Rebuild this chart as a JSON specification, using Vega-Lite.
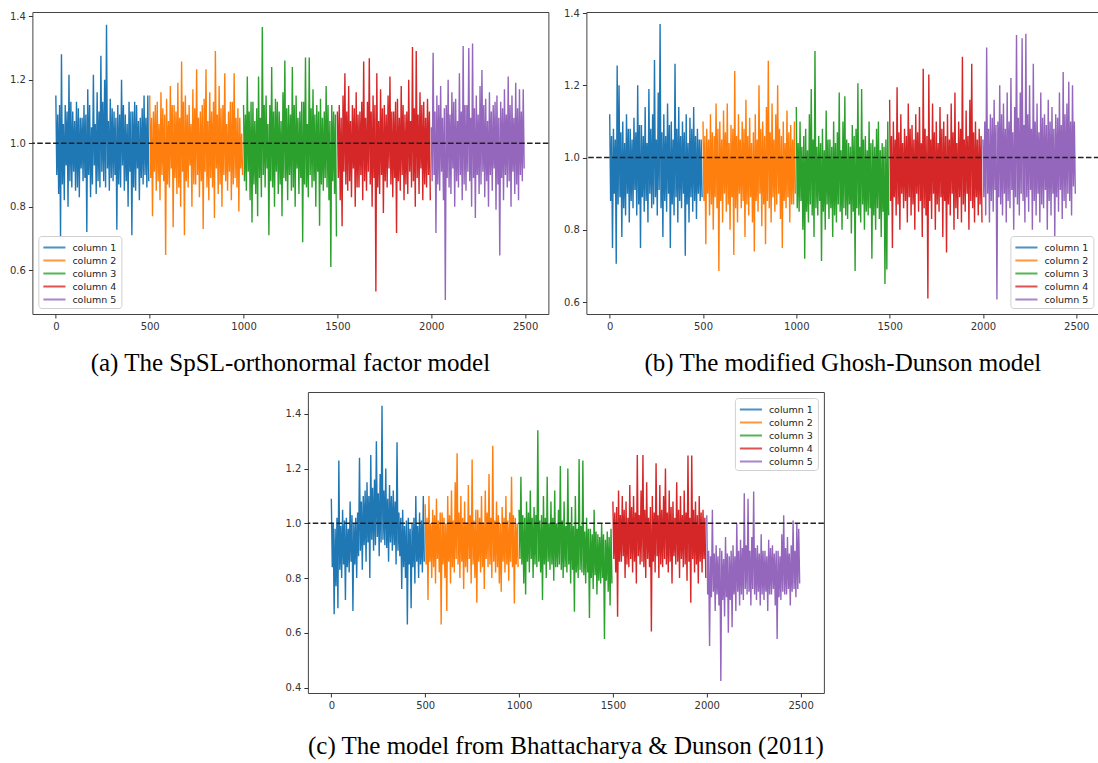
{
"$schema":"https://vega.github.io/schema/vega-lite/v6.json",
"background":"white",
"padding":{"left":8,"top":7,"right":0,"bottom":0},
"config":{
 "view":{"stroke":"#444","strokeWidth":1},
 "axis":{"grid":false,"domain":false,"tickColor":"#333","tickSize":4,"labelFont":"DejaVu Sans","labelFontSize":10,"labelColor":"#333","labelPadding":3,"title":null},
 "legend":{"symbolType":"M-1,0H2.4","symbolStrokeWidth":2,"symbolSize":169,"symbolOpacity":0.8,"labelFont":"DejaVu Sans","labelFontSize":9.5,"labelColor":"#222","labelOffset":15,"rowPadding":1,"padding":4,"strokeColor":"#d0d0d0","fillColor":"#ffffff","cornerRadius":3,"offset":6,"title":null},
 "title":{"font":"Liberation Serif","fontSize":25,"fontWeight":"normal","color":"#000","orient":"bottom","anchor":"middle","offset":20}
},
"datasets":{
"a":[
{"c":1,"x":0,"y":1.15},{"c":1,"x":5,"y":0.90},{"c":1,"x":10,"y":1.09},{"c":1,"x":15,"y":0.84},{"c":1,"x":20,"y":1.12},{"c":1,"x":25,"y":0.70},{"c":1,"x":30,"y":1.28},{"c":1,"x":35,"y":0.87},{"c":1,"x":40,"y":1.06},{"c":1,"x":45,"y":0.82},
{"c":1,"x":50,"y":1.12},{"c":1,"x":55,"y":0.93},{"c":1,"x":60,"y":1.10},{"c":1,"x":65,"y":0.80},{"c":1,"x":70,"y":1.215},{"c":1,"x":75,"y":0.88},{"c":1,"x":80,"y":1.13},{"c":1,"x":85,"y":0.86},{"c":1,"x":90,"y":1.10},{"c":1,"x":95,"y":0.91},
{"c":1,"x":100,"y":1.07},{"c":1,"x":105,"y":0.85},{"c":1,"x":110,"y":1.13},{"c":1,"x":115,"y":0.86},{"c":1,"x":120,"y":1.11},{"c":1,"x":125,"y":0.83},{"c":1,"x":130,"y":1.08},{"c":1,"x":135,"y":0.92},{"c":1,"x":140,"y":1.08},{"c":1,"x":145,"y":0.88},
{"c":1,"x":150,"y":1.12},{"c":1,"x":155,"y":0.89},{"c":1,"x":160,"y":1.09},{"c":1,"x":165,"y":0.72},{"c":1,"x":170,"y":1.17},{"c":1,"x":175,"y":0.90},{"c":1,"x":180,"y":1.12},{"c":1,"x":185,"y":0.83},{"c":1,"x":190,"y":1.05},{"c":1,"x":195,"y":0.87},
{"c":1,"x":200,"y":1.215},{"c":1,"x":205,"y":0.93},{"c":1,"x":210,"y":1.06},{"c":1,"x":215,"y":0.84},{"c":1,"x":220,"y":1.16},{"c":1,"x":225,"y":0.88},{"c":1,"x":230,"y":1.10},{"c":1,"x":235,"y":0.86},{"c":1,"x":240,"y":1.275},{"c":1,"x":245,"y":0.91},
{"c":1,"x":250,"y":1.13},{"c":1,"x":255,"y":0.88},{"c":1,"x":260,"y":1.20},{"c":1,"x":265,"y":0.86},{"c":1,"x":270,"y":1.373},{"c":1,"x":275,"y":0.92},{"c":1,"x":280,"y":1.07},{"c":1,"x":285,"y":0.85},{"c":1,"x":290,"y":1.14},{"c":1,"x":295,"y":0.89},
{"c":1,"x":300,"y":1.11},{"c":1,"x":305,"y":0.88},{"c":1,"x":310,"y":1.10},{"c":1,"x":315,"y":0.90},{"c":1,"x":320,"y":1.08},{"c":1,"x":325,"y":0.727},{"c":1,"x":330,"y":1.12},{"c":1,"x":335,"y":0.87},{"c":1,"x":340,"y":1.09},{"c":1,"x":345,"y":0.86},
{"c":1,"x":350,"y":1.20},{"c":1,"x":355,"y":0.93},{"c":1,"x":360,"y":1.12},{"c":1,"x":365,"y":0.85},{"c":1,"x":370,"y":1.09},{"c":1,"x":375,"y":0.88},{"c":1,"x":380,"y":1.06},{"c":1,"x":385,"y":0.80},{"c":1,"x":390,"y":1.13},{"c":1,"x":395,"y":0.91},
{"c":1,"x":400,"y":1.10},{"c":1,"x":405,"y":0.71},{"c":1,"x":410,"y":1.10},{"c":1,"x":415,"y":0.86},{"c":1,"x":420,"y":1.13},{"c":1,"x":425,"y":0.85},{"c":1,"x":430,"y":1.12},{"c":1,"x":435,"y":0.92},{"c":1,"x":440,"y":1.07},{"c":1,"x":445,"y":0.82},
{"c":1,"x":450,"y":1.08},{"c":1,"x":455,"y":0.89},{"c":1,"x":460,"y":1.11},{"c":1,"x":465,"y":0.87},{"c":1,"x":470,"y":1.15},{"c":1,"x":475,"y":0.90},{"c":1,"x":480,"y":1.08},{"c":1,"x":485,"y":0.86},{"c":1,"x":490,"y":1.15},{"c":1,"x":495,"y":0.88},
{"c":2,"x":500,"y":1.15},{"c":2,"x":505,"y":0.89},{"c":2,"x":510,"y":1.08},{"c":2,"x":515,"y":0.77},{"c":2,"x":520,"y":1.10},{"c":2,"x":525,"y":0.91},{"c":2,"x":530,"y":1.12},{"c":2,"x":535,"y":0.85},{"c":2,"x":540,"y":1.13},{"c":2,"x":545,"y":0.88},
{"c":2,"x":550,"y":1.06},{"c":2,"x":555,"y":0.82},{"c":2,"x":560,"y":1.16},{"c":2,"x":565,"y":0.90},{"c":2,"x":570,"y":1.11},{"c":2,"x":575,"y":0.88},{"c":2,"x":580,"y":1.09},{"c":2,"x":585,"y":0.648},{"c":2,"x":590,"y":1.14},{"c":2,"x":595,"y":0.87},
{"c":2,"x":600,"y":1.07},{"c":2,"x":605,"y":0.86},{"c":2,"x":610,"y":1.18},{"c":2,"x":615,"y":0.92},{"c":2,"x":620,"y":1.12},{"c":2,"x":625,"y":0.735},{"c":2,"x":630,"y":1.12},{"c":2,"x":635,"y":0.89},{"c":2,"x":640,"y":1.10},{"c":2,"x":645,"y":0.84},
{"c":2,"x":650,"y":1.19},{"c":2,"x":655,"y":0.86},{"c":2,"x":660,"y":1.08},{"c":2,"x":665,"y":0.80},{"c":2,"x":670,"y":1.257},{"c":2,"x":675,"y":0.91},{"c":2,"x":680,"y":1.13},{"c":2,"x":685,"y":0.71},{"c":2,"x":690,"y":1.15},{"c":2,"x":695,"y":0.88},
{"c":2,"x":700,"y":1.09},{"c":2,"x":705,"y":0.86},{"c":2,"x":710,"y":1.12},{"c":2,"x":715,"y":0.93},{"c":2,"x":720,"y":1.06},{"c":2,"x":725,"y":0.80},{"c":2,"x":730,"y":1.17},{"c":2,"x":735,"y":0.87},{"c":2,"x":740,"y":1.11},{"c":2,"x":745,"y":0.87},
{"c":2,"x":750,"y":1.233},{"c":2,"x":755,"y":0.90},{"c":2,"x":760,"y":1.08},{"c":2,"x":765,"y":0.83},{"c":2,"x":770,"y":1.10},{"c":2,"x":775,"y":0.88},{"c":2,"x":780,"y":1.12},{"c":2,"x":785,"y":0.73},{"c":2,"x":790,"y":1.14},{"c":2,"x":795,"y":0.91},
{"c":2,"x":800,"y":1.233},{"c":2,"x":805,"y":0.86},{"c":2,"x":810,"y":1.07},{"c":2,"x":815,"y":0.82},{"c":2,"x":820,"y":1.16},{"c":2,"x":825,"y":0.89},{"c":2,"x":830,"y":1.10},{"c":2,"x":835,"y":0.86},{"c":2,"x":840,"y":1.13},{"c":2,"x":845,"y":0.764},
{"c":2,"x":850,"y":1.29},{"c":2,"x":855,"y":0.92},{"c":2,"x":860,"y":1.09},{"c":2,"x":865,"y":0.84},{"c":2,"x":870,"y":1.18},{"c":2,"x":875,"y":0.87},{"c":2,"x":880,"y":1.11},{"c":2,"x":885,"y":0.80},{"c":2,"x":890,"y":1.12},{"c":2,"x":895,"y":0.90},
{"c":2,"x":900,"y":1.22},{"c":2,"x":905,"y":0.88},{"c":2,"x":910,"y":1.06},{"c":2,"x":915,"y":0.85},{"c":2,"x":920,"y":1.10},{"c":2,"x":925,"y":0.91},{"c":2,"x":930,"y":1.13},{"c":2,"x":935,"y":0.82},{"c":2,"x":940,"y":1.13},{"c":2,"x":945,"y":0.87},
{"c":2,"x":950,"y":1.22},{"c":2,"x":955,"y":0.89},{"c":2,"x":960,"y":1.08},{"c":2,"x":965,"y":0.86},{"c":2,"x":970,"y":1.11},{"c":2,"x":975,"y":0.785},{"c":2,"x":980,"y":1.08},{"c":2,"x":985,"y":0.92},{"c":2,"x":990,"y":1.03},{"c":2,"x":995,"y":0.90},
{"c":3,"x":1000,"y":1.12},{"c":3,"x":1005,"y":0.88},{"c":3,"x":1010,"y":1.09},{"c":3,"x":1015,"y":0.85},{"c":3,"x":1020,"y":1.21},{"c":3,"x":1025,"y":0.91},{"c":3,"x":1030,"y":1.10},{"c":3,"x":1035,"y":0.82},{"c":3,"x":1040,"y":1.13},{"c":3,"x":1045,"y":0.75},
{"c":3,"x":1050,"y":1.13},{"c":3,"x":1055,"y":0.87},{"c":3,"x":1060,"y":1.07},{"c":3,"x":1065,"y":0.84},{"c":3,"x":1070,"y":1.11},{"c":3,"x":1075,"y":0.77},{"c":3,"x":1080,"y":1.21},{"c":3,"x":1085,"y":0.89},{"c":3,"x":1090,"y":1.08},{"c":3,"x":1095,"y":0.83},
{"c":3,"x":1100,"y":1.366},{"c":3,"x":1105,"y":0.90},{"c":3,"x":1110,"y":1.12},{"c":3,"x":1115,"y":0.86},{"c":3,"x":1120,"y":1.15},{"c":3,"x":1125,"y":0.92},{"c":3,"x":1130,"y":1.06},{"c":3,"x":1135,"y":0.71},{"c":3,"x":1140,"y":1.12},{"c":3,"x":1145,"y":0.88},
{"c":3,"x":1150,"y":1.24},{"c":3,"x":1155,"y":0.86},{"c":3,"x":1160,"y":1.10},{"c":3,"x":1165,"y":0.80},{"c":3,"x":1170,"y":1.14},{"c":3,"x":1175,"y":0.91},{"c":3,"x":1180,"y":1.13},{"c":3,"x":1185,"y":0.84},{"c":3,"x":1190,"y":1.10},{"c":3,"x":1195,"y":0.87},
{"c":3,"x":1200,"y":1.07},{"c":3,"x":1205,"y":0.77},{"c":3,"x":1210,"y":1.16},{"c":3,"x":1215,"y":0.89},{"c":3,"x":1220,"y":1.26},{"c":3,"x":1225,"y":0.88},{"c":3,"x":1230,"y":1.11},{"c":3,"x":1235,"y":0.82},{"c":3,"x":1240,"y":1.12},{"c":3,"x":1245,"y":0.90},
{"c":3,"x":1250,"y":1.09},{"c":3,"x":1255,"y":0.85},{"c":3,"x":1260,"y":1.24},{"c":3,"x":1265,"y":0.86},{"c":3,"x":1270,"y":1.12},{"c":3,"x":1275,"y":0.80},{"c":3,"x":1280,"y":1.15},{"c":3,"x":1285,"y":0.92},{"c":3,"x":1290,"y":1.08},{"c":3,"x":1295,"y":0.84},
{"c":3,"x":1300,"y":1.10},{"c":3,"x":1305,"y":0.89},{"c":3,"x":1310,"y":1.13},{"c":3,"x":1315,"y":0.688},{"c":3,"x":1320,"y":1.13},{"c":3,"x":1325,"y":0.87},{"c":3,"x":1330,"y":1.27},{"c":3,"x":1335,"y":0.86},{"c":3,"x":1340,"y":1.06},{"c":3,"x":1345,"y":0.83},
{"c":3,"x":1350,"y":1.27},{"c":3,"x":1355,"y":0.90},{"c":3,"x":1360,"y":1.11},{"c":3,"x":1365,"y":0.86},{"c":3,"x":1370,"y":1.17},{"c":3,"x":1375,"y":0.88},{"c":3,"x":1380,"y":1.09},{"c":3,"x":1385,"y":0.80},{"c":3,"x":1390,"y":1.12},{"c":3,"x":1395,"y":0.91},
{"c":3,"x":1400,"y":1.10},{"c":3,"x":1405,"y":0.74},{"c":3,"x":1410,"y":1.14},{"c":3,"x":1415,"y":0.87},{"c":3,"x":1420,"y":1.08},{"c":3,"x":1425,"y":0.85},{"c":3,"x":1430,"y":1.10},{"c":3,"x":1435,"y":0.89},{"c":3,"x":1440,"y":1.18},{"c":3,"x":1445,"y":0.86},
{"c":3,"x":1450,"y":1.12},{"c":3,"x":1455,"y":0.82},{"c":3,"x":1460,"y":1.07},{"c":3,"x":1465,"y":0.61},{"c":3,"x":1470,"y":1.12},{"c":3,"x":1475,"y":0.88},{"c":3,"x":1480,"y":1.10},{"c":3,"x":1485,"y":0.84},{"c":3,"x":1490,"y":1.09},{"c":3,"x":1495,"y":0.706},
{"c":4,"x":1500,"y":1.10},{"c":4,"x":1505,"y":0.89},{"c":4,"x":1510,"y":1.12},{"c":4,"x":1515,"y":0.82},{"c":4,"x":1520,"y":1.08},{"c":4,"x":1525,"y":0.738},{"c":4,"x":1530,"y":1.15},{"c":4,"x":1535,"y":0.91},{"c":4,"x":1540,"y":1.22},{"c":4,"x":1545,"y":0.87},
{"c":4,"x":1550,"y":1.10},{"c":4,"x":1555,"y":0.85},{"c":4,"x":1560,"y":1.18},{"c":4,"x":1565,"y":0.88},{"c":4,"x":1570,"y":1.07},{"c":4,"x":1575,"y":0.83},{"c":4,"x":1580,"y":1.12},{"c":4,"x":1585,"y":0.92},{"c":4,"x":1590,"y":1.11},{"c":4,"x":1595,"y":0.80},
{"c":4,"x":1600,"y":1.16},{"c":4,"x":1605,"y":0.86},{"c":4,"x":1610,"y":1.09},{"c":4,"x":1615,"y":0.86},{"c":4,"x":1620,"y":1.10},{"c":4,"x":1625,"y":0.90},{"c":4,"x":1630,"y":1.13},{"c":4,"x":1635,"y":0.82},{"c":4,"x":1640,"y":1.257},{"c":4,"x":1645,"y":0.88},
{"c":4,"x":1650,"y":1.08},{"c":4,"x":1655,"y":0.85},{"c":4,"x":1660,"y":1.13},{"c":4,"x":1665,"y":0.91},{"c":4,"x":1670,"y":1.267},{"c":4,"x":1675,"y":0.87},{"c":4,"x":1680,"y":1.10},{"c":4,"x":1685,"y":0.80},{"c":4,"x":1690,"y":1.15},{"c":4,"x":1695,"y":0.89},
{"c":4,"x":1700,"y":1.12},{"c":4,"x":1705,"y":0.533},{"c":4,"x":1710,"y":1.22},{"c":4,"x":1715,"y":0.86},{"c":4,"x":1720,"y":1.07},{"c":4,"x":1725,"y":0.84},{"c":4,"x":1730,"y":1.17},{"c":4,"x":1735,"y":0.90},{"c":4,"x":1740,"y":1.11},{"c":4,"x":1745,"y":0.78},
{"c":4,"x":1750,"y":1.12},{"c":4,"x":1755,"y":0.88},{"c":4,"x":1760,"y":1.09},{"c":4,"x":1765,"y":0.86},{"c":4,"x":1770,"y":1.15},{"c":4,"x":1775,"y":0.92},{"c":4,"x":1780,"y":1.21},{"c":4,"x":1785,"y":0.87},{"c":4,"x":1790,"y":1.10},{"c":4,"x":1795,"y":0.83},
{"c":4,"x":1800,"y":1.10},{"c":4,"x":1805,"y":0.89},{"c":4,"x":1810,"y":1.13},{"c":4,"x":1815,"y":0.717},{"c":4,"x":1820,"y":1.14},{"c":4,"x":1825,"y":0.88},{"c":4,"x":1830,"y":1.08},{"c":4,"x":1835,"y":0.85},{"c":4,"x":1840,"y":1.18},{"c":4,"x":1845,"y":0.90},
{"c":4,"x":1850,"y":1.12},{"c":4,"x":1855,"y":0.82},{"c":4,"x":1860,"y":1.09},{"c":4,"x":1865,"y":0.87},{"c":4,"x":1870,"y":1.10},{"c":4,"x":1875,"y":0.84},{"c":4,"x":1880,"y":1.20},{"c":4,"x":1885,"y":0.91},{"c":4,"x":1890,"y":1.07},{"c":4,"x":1895,"y":0.86},
{"c":4,"x":1900,"y":1.303},{"c":4,"x":1905,"y":0.88},{"c":4,"x":1910,"y":1.11},{"c":4,"x":1915,"y":0.80},{"c":4,"x":1920,"y":1.29},{"c":4,"x":1925,"y":0.89},{"c":4,"x":1930,"y":1.09},{"c":4,"x":1935,"y":0.84},{"c":4,"x":1940,"y":1.16},{"c":4,"x":1945,"y":0.92},
{"c":4,"x":1950,"y":1.12},{"c":4,"x":1955,"y":0.82},{"c":4,"x":1960,"y":1.13},{"c":4,"x":1965,"y":0.87},{"c":4,"x":1970,"y":1.08},{"c":4,"x":1975,"y":0.86},{"c":4,"x":1980,"y":1.14},{"c":4,"x":1985,"y":0.90},{"c":4,"x":1990,"y":1.10},{"c":4,"x":1995,"y":0.82},
{"c":5,"x":2000,"y":1.05},{"c":5,"x":2005,"y":0.88},{"c":5,"x":2010,"y":1.285},{"c":5,"x":2015,"y":0.90},{"c":5,"x":2020,"y":1.10},{"c":5,"x":2025,"y":0.717},{"c":5,"x":2030,"y":1.15},{"c":5,"x":2035,"y":0.87},{"c":5,"x":2040,"y":1.12},{"c":5,"x":2045,"y":0.85},
{"c":5,"x":2050,"y":1.18},{"c":5,"x":2055,"y":0.91},{"c":5,"x":2060,"y":1.08},{"c":5,"x":2065,"y":0.82},{"c":5,"x":2070,"y":1.11},{"c":5,"x":2075,"y":0.506},{"c":5,"x":2080,"y":1.12},{"c":5,"x":2085,"y":0.89},{"c":5,"x":2090,"y":1.20},{"c":5,"x":2095,"y":0.86},
{"c":5,"x":2100,"y":1.09},{"c":5,"x":2105,"y":0.84},{"c":5,"x":2110,"y":1.16},{"c":5,"x":2115,"y":0.92},{"c":5,"x":2120,"y":1.13},{"c":5,"x":2125,"y":0.80},{"c":5,"x":2130,"y":1.14},{"c":5,"x":2135,"y":0.88},{"c":5,"x":2140,"y":1.07},{"c":5,"x":2145,"y":0.86},
{"c":5,"x":2150,"y":1.22},{"c":5,"x":2155,"y":0.90},{"c":5,"x":2160,"y":1.10},{"c":5,"x":2165,"y":0.82},{"c":5,"x":2170,"y":1.306},{"c":5,"x":2175,"y":0.87},{"c":5,"x":2180,"y":1.12},{"c":5,"x":2185,"y":0.85},{"c":5,"x":2190,"y":1.12},{"c":5,"x":2195,"y":0.91},
{"c":5,"x":2200,"y":1.30},{"c":5,"x":2205,"y":0.88},{"c":5,"x":2210,"y":1.08},{"c":5,"x":2215,"y":0.80},{"c":5,"x":2220,"y":1.314},{"c":5,"x":2225,"y":0.89},{"c":5,"x":2230,"y":1.11},{"c":5,"x":2235,"y":0.764},{"c":5,"x":2240,"y":1.15},{"c":5,"x":2245,"y":0.90},
{"c":5,"x":2250,"y":1.09},{"c":5,"x":2255,"y":0.84},{"c":5,"x":2260,"y":1.18},{"c":5,"x":2265,"y":0.87},{"c":5,"x":2270,"y":1.23},{"c":5,"x":2275,"y":0.91},{"c":5,"x":2280,"y":1.12},{"c":5,"x":2285,"y":0.83},{"c":5,"x":2290,"y":1.14},{"c":5,"x":2295,"y":0.88},
{"c":5,"x":2300,"y":1.07},{"c":5,"x":2305,"y":0.80},{"c":5,"x":2310,"y":1.16},{"c":5,"x":2315,"y":0.90},{"c":5,"x":2320,"y":1.10},{"c":5,"x":2325,"y":0.85},{"c":5,"x":2330,"y":1.12},{"c":5,"x":2335,"y":0.92},{"c":5,"x":2340,"y":1.13},{"c":5,"x":2345,"y":0.79},
{"c":5,"x":2350,"y":1.15},{"c":5,"x":2355,"y":0.87},{"c":5,"x":2360,"y":1.08},{"c":5,"x":2365,"y":0.646},{"c":5,"x":2370,"y":1.13},{"c":5,"x":2375,"y":0.89},{"c":5,"x":2380,"y":1.11},{"c":5,"x":2385,"y":0.82},{"c":5,"x":2390,"y":1.17},{"c":5,"x":2395,"y":0.90},
{"c":5,"x":2400,"y":1.09},{"c":5,"x":2405,"y":0.86},{"c":5,"x":2410,"y":1.21},{"c":5,"x":2415,"y":0.88},{"c":5,"x":2420,"y":1.12},{"c":5,"x":2425,"y":0.80},{"c":5,"x":2430,"y":1.15},{"c":5,"x":2435,"y":0.91},{"c":5,"x":2440,"y":1.08},{"c":5,"x":2445,"y":0.84},
{"c":5,"x":2450,"y":1.19},{"c":5,"x":2455,"y":0.87},{"c":5,"x":2460,"y":1.11},{"c":5,"x":2465,"y":0.82},{"c":5,"x":2470,"y":1.17},{"c":5,"x":2475,"y":0.90},{"c":5,"x":2480,"y":1.10},{"c":5,"x":2485,"y":0.88},{"c":5,"x":2490,"y":1.17},{"c":5,"x":2495,"y":0.92}
],
"b":[
{"c":1,"x":0,"y":1.12},{"c":1,"x":5,"y":0.88},{"c":1,"x":10,"y":1.06},{"c":1,"x":15,"y":0.75},{"c":1,"x":20,"y":1.08},{"c":1,"x":25,"y":0.90},{"c":1,"x":30,"y":1.05},{"c":1,"x":35,"y":0.706},{"c":1,"x":40,"y":1.255},{"c":1,"x":45,"y":0.87},
{"c":1,"x":50,"y":1.20},{"c":1,"x":55,"y":0.89},{"c":1,"x":60,"y":1.07},{"c":1,"x":65,"y":0.78},{"c":1,"x":70,"y":1.10},{"c":1,"x":75,"y":0.86},{"c":1,"x":80,"y":1.04},{"c":1,"x":85,"y":0.84},{"c":1,"x":90,"y":1.12},{"c":1,"x":95,"y":0.90},
{"c":1,"x":100,"y":1.08},{"c":1,"x":105,"y":0.82},{"c":1,"x":110,"y":1.08},{"c":1,"x":115,"y":0.88},{"c":1,"x":120,"y":1.05},{"c":1,"x":125,"y":0.86},{"c":1,"x":130,"y":1.11},{"c":1,"x":135,"y":0.91},{"c":1,"x":140,"y":1.07},{"c":1,"x":145,"y":0.84},
{"c":1,"x":150,"y":1.20},{"c":1,"x":155,"y":0.87},{"c":1,"x":160,"y":1.09},{"c":1,"x":165,"y":0.75},{"c":1,"x":170,"y":1.09},{"c":1,"x":175,"y":0.89},{"c":1,"x":180,"y":1.06},{"c":1,"x":185,"y":0.85},{"c":1,"x":190,"y":1.14},{"c":1,"x":195,"y":0.88},
{"c":1,"x":200,"y":1.04},{"c":1,"x":205,"y":0.82},{"c":1,"x":210,"y":1.19},{"c":1,"x":215,"y":0.90},{"c":1,"x":220,"y":1.08},{"c":1,"x":225,"y":0.86},{"c":1,"x":230,"y":1.12},{"c":1,"x":235,"y":0.87},{"c":1,"x":240,"y":1.27},{"c":1,"x":245,"y":0.89},
{"c":1,"x":250,"y":1.05},{"c":1,"x":255,"y":0.84},{"c":1,"x":260,"y":1.18},{"c":1,"x":265,"y":0.91},{"c":1,"x":270,"y":1.37},{"c":1,"x":275,"y":0.86},{"c":1,"x":280,"y":1.07},{"c":1,"x":285,"y":0.78},{"c":1,"x":290,"y":1.12},{"c":1,"x":295,"y":0.88},
{"c":1,"x":300,"y":1.06},{"c":1,"x":305,"y":0.85},{"c":1,"x":310,"y":1.15},{"c":1,"x":315,"y":0.90},{"c":1,"x":320,"y":1.09},{"c":1,"x":325,"y":0.75},{"c":1,"x":330,"y":1.10},{"c":1,"x":335,"y":0.87},{"c":1,"x":340,"y":1.05},{"c":1,"x":345,"y":0.84},
{"c":1,"x":350,"y":1.26},{"c":1,"x":355,"y":0.89},{"c":1,"x":360,"y":1.08},{"c":1,"x":365,"y":0.82},{"c":1,"x":370,"y":1.14},{"c":1,"x":375,"y":0.88},{"c":1,"x":380,"y":1.06},{"c":1,"x":385,"y":0.86},{"c":1,"x":390,"y":1.10},{"c":1,"x":395,"y":0.90},
{"c":1,"x":400,"y":1.07},{"c":1,"x":405,"y":0.728},{"c":1,"x":410,"y":1.12},{"c":1,"x":415,"y":0.87},{"c":1,"x":420,"y":1.04},{"c":1,"x":425,"y":0.82},{"c":1,"x":430,"y":1.11},{"c":1,"x":435,"y":0.89},{"c":1,"x":440,"y":1.08},{"c":1,"x":445,"y":0.85},
{"c":1,"x":450,"y":1.14},{"c":1,"x":455,"y":0.88},{"c":1,"x":460,"y":1.06},{"c":1,"x":465,"y":0.83},{"c":1,"x":470,"y":1.08},{"c":1,"x":475,"y":0.90},{"c":1,"x":480,"y":1.05},{"c":1,"x":485,"y":0.88},{"c":1,"x":490,"y":1.05},{"c":1,"x":495,"y":0.89},
{"c":2,"x":500,"y":1.10},{"c":2,"x":505,"y":0.88},{"c":2,"x":510,"y":1.06},{"c":2,"x":515,"y":0.76},{"c":2,"x":520,"y":1.08},{"c":2,"x":525,"y":0.90},{"c":2,"x":530,"y":1.05},{"c":2,"x":535,"y":0.84},{"c":2,"x":540,"y":1.12},{"c":2,"x":545,"y":0.87},
{"c":2,"x":550,"y":1.07},{"c":2,"x":555,"y":0.80},{"c":2,"x":560,"y":1.06},{"c":2,"x":565,"y":0.89},{"c":2,"x":570,"y":1.15},{"c":2,"x":575,"y":0.86},{"c":2,"x":580,"y":1.08},{"c":2,"x":585,"y":0.686},{"c":2,"x":590,"y":1.10},{"c":2,"x":595,"y":0.88},
{"c":2,"x":600,"y":1.05},{"c":2,"x":605,"y":0.82},{"c":2,"x":610,"y":1.13},{"c":2,"x":615,"y":0.90},{"c":2,"x":620,"y":1.07},{"c":2,"x":625,"y":0.85},{"c":2,"x":630,"y":1.15},{"c":2,"x":635,"y":0.87},{"c":2,"x":640,"y":1.04},{"c":2,"x":645,"y":0.80},
{"c":2,"x":650,"y":1.09},{"c":2,"x":655,"y":0.89},{"c":2,"x":660,"y":1.08},{"c":2,"x":665,"y":0.73},{"c":2,"x":670,"y":1.24},{"c":2,"x":675,"y":0.86},{"c":2,"x":680,"y":1.06},{"c":2,"x":685,"y":0.82},{"c":2,"x":690,"y":1.12},{"c":2,"x":695,"y":0.90},
{"c":2,"x":700,"y":1.05},{"c":2,"x":705,"y":0.86},{"c":2,"x":710,"y":1.10},{"c":2,"x":715,"y":0.88},{"c":2,"x":720,"y":1.08},{"c":2,"x":725,"y":0.78},{"c":2,"x":730,"y":1.16},{"c":2,"x":735,"y":0.87},{"c":2,"x":740,"y":1.06},{"c":2,"x":745,"y":0.84},
{"c":2,"x":750,"y":1.11},{"c":2,"x":755,"y":0.89},{"c":2,"x":760,"y":1.04},{"c":2,"x":765,"y":0.82},{"c":2,"x":770,"y":1.07},{"c":2,"x":775,"y":0.74},{"c":2,"x":780,"y":1.12},{"c":2,"x":785,"y":0.88},{"c":2,"x":790,"y":1.05},{"c":2,"x":795,"y":0.85},
{"c":2,"x":800,"y":1.20},{"c":2,"x":805,"y":0.90},{"c":2,"x":810,"y":1.08},{"c":2,"x":815,"y":0.81},{"c":2,"x":820,"y":1.10},{"c":2,"x":825,"y":0.87},{"c":2,"x":830,"y":1.06},{"c":2,"x":835,"y":0.76},{"c":2,"x":840,"y":1.14},{"c":2,"x":845,"y":0.88},
{"c":2,"x":850,"y":1.268},{"c":2,"x":855,"y":0.86},{"c":2,"x":860,"y":1.07},{"c":2,"x":865,"y":0.82},{"c":2,"x":870,"y":1.15},{"c":2,"x":875,"y":0.89},{"c":2,"x":880,"y":1.05},{"c":2,"x":885,"y":0.85},{"c":2,"x":890,"y":1.12},{"c":2,"x":895,"y":0.87},
{"c":2,"x":900,"y":1.20},{"c":2,"x":905,"y":0.90},{"c":2,"x":910,"y":1.08},{"c":2,"x":915,"y":0.83},{"c":2,"x":920,"y":1.06},{"c":2,"x":925,"y":0.75},{"c":2,"x":930,"y":1.10},{"c":2,"x":935,"y":0.88},{"c":2,"x":940,"y":1.04},{"c":2,"x":945,"y":0.86},
{"c":2,"x":950,"y":1.13},{"c":2,"x":955,"y":0.89},{"c":2,"x":960,"y":1.07},{"c":2,"x":965,"y":0.82},{"c":2,"x":970,"y":1.09},{"c":2,"x":975,"y":0.87},{"c":2,"x":980,"y":1.05},{"c":2,"x":985,"y":0.87},{"c":2,"x":990,"y":1.10},{"c":2,"x":995,"y":0.90},
{"c":3,"x":1000,"y":1.14},{"c":3,"x":1005,"y":0.86},{"c":3,"x":1010,"y":1.04},{"c":3,"x":1015,"y":0.85},{"c":3,"x":1020,"y":1.10},{"c":3,"x":1025,"y":0.88},{"c":3,"x":1030,"y":1.03},{"c":3,"x":1035,"y":0.80},{"c":3,"x":1040,"y":1.06},{"c":3,"x":1045,"y":0.72},
{"c":3,"x":1050,"y":1.08},{"c":3,"x":1055,"y":0.85},{"c":3,"x":1060,"y":1.02},{"c":3,"x":1065,"y":0.82},{"c":3,"x":1070,"y":1.12},{"c":3,"x":1075,"y":0.87},{"c":3,"x":1080,"y":1.19},{"c":3,"x":1085,"y":0.84},{"c":3,"x":1090,"y":1.05},{"c":3,"x":1095,"y":0.78},
{"c":3,"x":1100,"y":1.295},{"c":3,"x":1105,"y":0.86},{"c":3,"x":1110,"y":1.03},{"c":3,"x":1115,"y":0.84},{"c":3,"x":1120,"y":1.06},{"c":3,"x":1125,"y":0.88},{"c":3,"x":1130,"y":1.04},{"c":3,"x":1135,"y":0.714},{"c":3,"x":1140,"y":1.08},{"c":3,"x":1145,"y":0.85},
{"c":3,"x":1150,"y":1.02},{"c":3,"x":1155,"y":0.80},{"c":3,"x":1160,"y":1.13},{"c":3,"x":1165,"y":0.87},{"c":3,"x":1170,"y":1.05},{"c":3,"x":1175,"y":0.83},{"c":3,"x":1180,"y":1.05},{"c":3,"x":1185,"y":0.86},{"c":3,"x":1190,"y":1.03},{"c":3,"x":1195,"y":0.78},
{"c":3,"x":1200,"y":1.10},{"c":3,"x":1205,"y":0.84},{"c":3,"x":1210,"y":1.04},{"c":3,"x":1215,"y":0.82},{"c":3,"x":1220,"y":1.07},{"c":3,"x":1225,"y":0.87},{"c":3,"x":1230,"y":1.18},{"c":3,"x":1235,"y":0.85},{"c":3,"x":1240,"y":1.02},{"c":3,"x":1245,"y":0.80},
{"c":3,"x":1250,"y":1.10},{"c":3,"x":1255,"y":0.86},{"c":3,"x":1260,"y":1.17},{"c":3,"x":1265,"y":0.84},{"c":3,"x":1270,"y":1.05},{"c":3,"x":1275,"y":0.83},{"c":3,"x":1280,"y":1.04},{"c":3,"x":1285,"y":0.87},{"c":3,"x":1290,"y":1.03},{"c":3,"x":1295,"y":0.79},
{"c":3,"x":1300,"y":1.09},{"c":3,"x":1305,"y":0.85},{"c":3,"x":1310,"y":1.06},{"c":3,"x":1315,"y":0.686},{"c":3,"x":1320,"y":1.08},{"c":3,"x":1325,"y":0.86},{"c":3,"x":1330,"y":1.206},{"c":3,"x":1335,"y":0.84},{"c":3,"x":1340,"y":1.03},{"c":3,"x":1345,"y":0.82},
{"c":3,"x":1350,"y":1.19},{"c":3,"x":1355,"y":0.87},{"c":3,"x":1360,"y":1.05},{"c":3,"x":1365,"y":0.80},{"c":3,"x":1370,"y":1.06},{"c":3,"x":1375,"y":0.85},{"c":3,"x":1380,"y":1.02},{"c":3,"x":1385,"y":0.84},{"c":3,"x":1390,"y":1.10},{"c":3,"x":1395,"y":0.86},
{"c":3,"x":1400,"y":1.04},{"c":3,"x":1405,"y":0.72},{"c":3,"x":1410,"y":1.05},{"c":3,"x":1415,"y":0.84},{"c":3,"x":1420,"y":1.03},{"c":3,"x":1425,"y":0.80},{"c":3,"x":1430,"y":1.08},{"c":3,"x":1435,"y":0.86},{"c":3,"x":1440,"y":1.10},{"c":3,"x":1445,"y":0.83},
{"c":3,"x":1450,"y":1.02},{"c":3,"x":1455,"y":0.78},{"c":3,"x":1460,"y":1.04},{"c":3,"x":1465,"y":0.85},{"c":3,"x":1470,"y":1.03},{"c":3,"x":1475,"y":0.65},{"c":3,"x":1480,"y":1.05},{"c":3,"x":1485,"y":0.69},{"c":3,"x":1490,"y":1.10},{"c":3,"x":1495,"y":0.84},
{"c":4,"x":1500,"y":1.16},{"c":4,"x":1505,"y":0.88},{"c":4,"x":1510,"y":1.06},{"c":4,"x":1515,"y":0.75},{"c":4,"x":1520,"y":1.10},{"c":4,"x":1525,"y":0.89},{"c":4,"x":1530,"y":1.05},{"c":4,"x":1535,"y":0.84},{"c":4,"x":1540,"y":1.195},{"c":4,"x":1545,"y":0.87},
{"c":4,"x":1550,"y":1.07},{"c":4,"x":1555,"y":0.80},{"c":4,"x":1560,"y":1.12},{"c":4,"x":1565,"y":0.90},{"c":4,"x":1570,"y":1.04},{"c":4,"x":1575,"y":0.86},{"c":4,"x":1580,"y":1.08},{"c":4,"x":1585,"y":0.88},{"c":4,"x":1590,"y":1.06},{"c":4,"x":1595,"y":0.82},
{"c":4,"x":1600,"y":1.15},{"c":4,"x":1605,"y":0.89},{"c":4,"x":1610,"y":1.08},{"c":4,"x":1615,"y":0.84},{"c":4,"x":1620,"y":1.09},{"c":4,"x":1625,"y":0.87},{"c":4,"x":1630,"y":1.05},{"c":4,"x":1635,"y":0.80},{"c":4,"x":1640,"y":1.12},{"c":4,"x":1645,"y":0.90},
{"c":4,"x":1650,"y":1.07},{"c":4,"x":1655,"y":0.85},{"c":4,"x":1660,"y":1.14},{"c":4,"x":1665,"y":0.88},{"c":4,"x":1670,"y":1.04},{"c":4,"x":1675,"y":0.78},{"c":4,"x":1680,"y":1.246},{"c":4,"x":1685,"y":0.86},{"c":4,"x":1690,"y":1.08},{"c":4,"x":1695,"y":0.84},
{"c":4,"x":1700,"y":1.06},{"c":4,"x":1705,"y":0.61},{"c":4,"x":1710,"y":1.23},{"c":4,"x":1715,"y":0.88},{"c":4,"x":1720,"y":1.05},{"c":4,"x":1725,"y":0.83},{"c":4,"x":1730,"y":1.15},{"c":4,"x":1735,"y":0.90},{"c":4,"x":1740,"y":1.07},{"c":4,"x":1745,"y":0.80},
{"c":4,"x":1750,"y":1.10},{"c":4,"x":1755,"y":0.87},{"c":4,"x":1760,"y":1.04},{"c":4,"x":1765,"y":0.85},{"c":4,"x":1770,"y":1.14},{"c":4,"x":1775,"y":0.89},{"c":4,"x":1780,"y":1.08},{"c":4,"x":1785,"y":0.78},{"c":4,"x":1790,"y":1.10},{"c":4,"x":1795,"y":0.88},
{"c":4,"x":1800,"y":1.06},{"c":4,"x":1805,"y":0.737},{"c":4,"x":1810,"y":1.12},{"c":4,"x":1815,"y":0.87},{"c":4,"x":1820,"y":1.05},{"c":4,"x":1825,"y":0.84},{"c":4,"x":1830,"y":1.15},{"c":4,"x":1835,"y":0.90},{"c":4,"x":1840,"y":1.07},{"c":4,"x":1845,"y":0.80},
{"c":4,"x":1850,"y":1.18},{"c":4,"x":1855,"y":0.86},{"c":4,"x":1860,"y":1.04},{"c":4,"x":1865,"y":0.83},{"c":4,"x":1870,"y":1.10},{"c":4,"x":1875,"y":0.89},{"c":4,"x":1880,"y":1.08},{"c":4,"x":1885,"y":0.82},{"c":4,"x":1890,"y":1.279},{"c":4,"x":1895,"y":0.87},
{"c":4,"x":1900,"y":1.05},{"c":4,"x":1905,"y":0.85},{"c":4,"x":1910,"y":1.13},{"c":4,"x":1915,"y":0.90},{"c":4,"x":1920,"y":1.06},{"c":4,"x":1925,"y":0.80},{"c":4,"x":1930,"y":1.16},{"c":4,"x":1935,"y":0.88},{"c":4,"x":1940,"y":1.26},{"c":4,"x":1945,"y":0.86},
{"c":4,"x":1950,"y":1.07},{"c":4,"x":1955,"y":0.82},{"c":4,"x":1960,"y":1.10},{"c":4,"x":1965,"y":0.89},{"c":4,"x":1970,"y":1.05},{"c":4,"x":1975,"y":0.84},{"c":4,"x":1980,"y":1.08},{"c":4,"x":1985,"y":0.87},{"c":4,"x":1990,"y":1.06},{"c":4,"x":1995,"y":0.82},
{"c":5,"x":2000,"y":1.05},{"c":5,"x":2005,"y":0.89},{"c":5,"x":2010,"y":1.10},{"c":5,"x":2015,"y":0.84},{"c":5,"x":2020,"y":1.305},{"c":5,"x":2025,"y":0.90},{"c":5,"x":2030,"y":1.08},{"c":5,"x":2035,"y":0.82},{"c":5,"x":2040,"y":1.12},{"c":5,"x":2045,"y":0.88},
{"c":5,"x":2050,"y":1.11},{"c":5,"x":2055,"y":0.85},{"c":5,"x":2060,"y":1.16},{"c":5,"x":2065,"y":0.91},{"c":5,"x":2070,"y":1.09},{"c":5,"x":2075,"y":0.607},{"c":5,"x":2080,"y":1.10},{"c":5,"x":2085,"y":0.89},{"c":5,"x":2090,"y":1.20},{"c":5,"x":2095,"y":0.87},
{"c":5,"x":2100,"y":1.12},{"c":5,"x":2105,"y":0.84},{"c":5,"x":2110,"y":1.15},{"c":5,"x":2115,"y":0.90},{"c":5,"x":2120,"y":1.08},{"c":5,"x":2125,"y":0.82},{"c":5,"x":2130,"y":1.18},{"c":5,"x":2135,"y":0.88},{"c":5,"x":2140,"y":1.10},{"c":5,"x":2145,"y":0.86},
{"c":5,"x":2150,"y":1.22},{"c":5,"x":2155,"y":0.91},{"c":5,"x":2160,"y":1.07},{"c":5,"x":2165,"y":0.80},{"c":5,"x":2170,"y":1.14},{"c":5,"x":2175,"y":0.89},{"c":5,"x":2180,"y":1.339},{"c":5,"x":2185,"y":0.87},{"c":5,"x":2190,"y":1.11},{"c":5,"x":2195,"y":0.84},
{"c":5,"x":2200,"y":1.18},{"c":5,"x":2205,"y":0.90},{"c":5,"x":2210,"y":1.33},{"c":5,"x":2215,"y":0.88},{"c":5,"x":2220,"y":1.09},{"c":5,"x":2225,"y":0.82},{"c":5,"x":2230,"y":1.343},{"c":5,"x":2235,"y":0.89},{"c":5,"x":2240,"y":1.12},{"c":5,"x":2245,"y":0.85},
{"c":5,"x":2250,"y":1.20},{"c":5,"x":2255,"y":0.91},{"c":5,"x":2260,"y":1.08},{"c":5,"x":2265,"y":0.80},{"c":5,"x":2270,"y":1.26},{"c":5,"x":2275,"y":0.88},{"c":5,"x":2280,"y":1.10},{"c":5,"x":2285,"y":0.84},{"c":5,"x":2290,"y":1.15},{"c":5,"x":2295,"y":0.90},
{"c":5,"x":2300,"y":1.07},{"c":5,"x":2305,"y":0.82},{"c":5,"x":2310,"y":1.18},{"c":5,"x":2315,"y":0.87},{"c":5,"x":2320,"y":1.11},{"c":5,"x":2325,"y":0.86},{"c":5,"x":2330,"y":1.12},{"c":5,"x":2335,"y":0.91},{"c":5,"x":2340,"y":1.09},{"c":5,"x":2345,"y":0.80},
{"c":5,"x":2350,"y":1.16},{"c":5,"x":2355,"y":0.88},{"c":5,"x":2360,"y":1.10},{"c":5,"x":2365,"y":0.84},{"c":5,"x":2370,"y":1.14},{"c":5,"x":2375,"y":0.90},{"c":5,"x":2380,"y":1.08},{"c":5,"x":2385,"y":0.78},{"c":5,"x":2390,"y":1.12},{"c":5,"x":2395,"y":0.89},
{"c":5,"x":2400,"y":1.11},{"c":5,"x":2405,"y":0.85},{"c":5,"x":2410,"y":1.18},{"c":5,"x":2415,"y":0.91},{"c":5,"x":2420,"y":1.09},{"c":5,"x":2425,"y":0.83},{"c":5,"x":2430,"y":1.237},{"c":5,"x":2435,"y":0.88},{"c":5,"x":2440,"y":1.12},{"c":5,"x":2445,"y":0.86},
{"c":5,"x":2450,"y":1.15},{"c":5,"x":2455,"y":0.90},{"c":5,"x":2460,"y":1.21},{"c":5,"x":2465,"y":0.88},{"c":5,"x":2470,"y":1.10},{"c":5,"x":2475,"y":0.84},{"c":5,"x":2480,"y":1.20},{"c":5,"x":2485,"y":0.92},{"c":5,"x":2490,"y":1.10},{"c":5,"x":2495,"y":0.90}
],
"c":[
{"c":1,"x":0,"y":1.09},{"c":1,"x":5,"y":0.84},{"c":1,"x":10,"y":1.00},{"c":1,"x":15,"y":0.668},{"c":1,"x":20,"y":0.98},{"c":1,"x":25,"y":0.77},{"c":1,"x":30,"y":1.02},{"c":1,"x":35,"y":0.69},{"c":1,"x":40,"y":1.23},{"c":1,"x":45,"y":0.83},
{"c":1,"x":50,"y":0.99},{"c":1,"x":55,"y":0.80},{"c":1,"x":60,"y":1.05},{"c":1,"x":65,"y":0.85},{"c":1,"x":70,"y":1.01},{"c":1,"x":75,"y":0.72},{"c":1,"x":80,"y":1.02},{"c":1,"x":85,"y":0.84},{"c":1,"x":90,"y":0.98},{"c":1,"x":95,"y":0.82},
{"c":1,"x":100,"y":1.08},{"c":1,"x":105,"y":0.86},{"c":1,"x":110,"y":1.03},{"c":1,"x":115,"y":0.68},{"c":1,"x":120,"y":1.00},{"c":1,"x":125,"y":0.85},{"c":1,"x":130,"y":1.02},{"c":1,"x":135,"y":0.80},{"c":1,"x":140,"y":1.04},{"c":1,"x":145,"y":0.88},
{"c":1,"x":150,"y":1.24},{"c":1,"x":155,"y":0.90},{"c":1,"x":160,"y":1.08},{"c":1,"x":165,"y":0.83},{"c":1,"x":170,"y":1.10},{"c":1,"x":175,"y":0.92},{"c":1,"x":180,"y":1.12},{"c":1,"x":185,"y":0.86},{"c":1,"x":190,"y":1.15},{"c":1,"x":195,"y":0.93},
{"c":1,"x":200,"y":1.10},{"c":1,"x":205,"y":0.80},{"c":1,"x":210,"y":1.25},{"c":1,"x":215,"y":0.94},{"c":1,"x":220,"y":1.13},{"c":1,"x":225,"y":0.90},{"c":1,"x":230,"y":1.16},{"c":1,"x":235,"y":0.92},{"c":1,"x":240,"y":1.30},{"c":1,"x":245,"y":0.95},
{"c":1,"x":250,"y":1.11},{"c":1,"x":255,"y":0.88},{"c":1,"x":260,"y":1.18},{"c":1,"x":265,"y":0.93},{"c":1,"x":270,"y":1.43},{"c":1,"x":275,"y":0.94},{"c":1,"x":280,"y":1.12},{"c":1,"x":285,"y":0.92},{"c":1,"x":290,"y":1.20},{"c":1,"x":295,"y":0.91},
{"c":1,"x":300,"y":1.09},{"c":1,"x":305,"y":0.86},{"c":1,"x":310,"y":1.14},{"c":1,"x":315,"y":0.93},{"c":1,"x":320,"y":1.10},{"c":1,"x":325,"y":0.90},{"c":1,"x":330,"y":1.12},{"c":1,"x":335,"y":0.92},{"c":1,"x":340,"y":1.08},{"c":1,"x":345,"y":0.85},
{"c":1,"x":350,"y":1.296},{"c":1,"x":355,"y":0.90},{"c":1,"x":360,"y":1.04},{"c":1,"x":365,"y":0.88},{"c":1,"x":370,"y":1.02},{"c":1,"x":375,"y":0.76},{"c":1,"x":380,"y":1.05},{"c":1,"x":385,"y":0.84},{"c":1,"x":390,"y":0.99},{"c":1,"x":395,"y":0.80},
{"c":1,"x":400,"y":1.01},{"c":1,"x":405,"y":0.63},{"c":1,"x":410,"y":1.02},{"c":1,"x":415,"y":0.85},{"c":1,"x":420,"y":0.98},{"c":1,"x":425,"y":0.69},{"c":1,"x":430,"y":1.00},{"c":1,"x":435,"y":0.84},{"c":1,"x":440,"y":1.02},{"c":1,"x":445,"y":0.78},
{"c":1,"x":450,"y":1.10},{"c":1,"x":455,"y":0.86},{"c":1,"x":460,"y":0.99},{"c":1,"x":465,"y":0.80},{"c":1,"x":470,"y":1.04},{"c":1,"x":475,"y":0.85},{"c":1,"x":480,"y":1.01},{"c":1,"x":485,"y":0.82},{"c":1,"x":490,"y":1.10},{"c":1,"x":495,"y":0.86},
{"c":2,"x":500,"y":1.07},{"c":2,"x":505,"y":0.85},{"c":2,"x":510,"y":1.02},{"c":2,"x":515,"y":0.72},{"c":2,"x":520,"y":1.10},{"c":2,"x":525,"y":0.86},{"c":2,"x":530,"y":1.00},{"c":2,"x":535,"y":0.80},{"c":2,"x":540,"y":1.05},{"c":2,"x":545,"y":0.84},
{"c":2,"x":550,"y":1.03},{"c":2,"x":555,"y":0.78},{"c":2,"x":560,"y":1.09},{"c":2,"x":565,"y":0.87},{"c":2,"x":570,"y":1.01},{"c":2,"x":575,"y":0.82},{"c":2,"x":580,"y":1.04},{"c":2,"x":585,"y":0.63},{"c":2,"x":590,"y":1.04},{"c":2,"x":595,"y":0.85},
{"c":2,"x":600,"y":1.02},{"c":2,"x":605,"y":0.80},{"c":2,"x":610,"y":1.00},{"c":2,"x":615,"y":0.68},{"c":2,"x":620,"y":1.10},{"c":2,"x":625,"y":0.86},{"c":2,"x":630,"y":1.03},{"c":2,"x":635,"y":0.78},{"c":2,"x":640,"y":1.12},{"c":2,"x":645,"y":0.84},
{"c":2,"x":650,"y":1.01},{"c":2,"x":655,"y":0.82},{"c":2,"x":660,"y":1.15},{"c":2,"x":665,"y":0.87},{"c":2,"x":670,"y":1.256},{"c":2,"x":675,"y":0.85},{"c":2,"x":680,"y":1.04},{"c":2,"x":685,"y":0.80},{"c":2,"x":690,"y":1.10},{"c":2,"x":695,"y":0.86},
{"c":2,"x":700,"y":1.02},{"c":2,"x":705,"y":0.76},{"c":2,"x":710,"y":1.08},{"c":2,"x":715,"y":0.84},{"c":2,"x":720,"y":1.00},{"c":2,"x":725,"y":0.82},{"c":2,"x":730,"y":1.14},{"c":2,"x":735,"y":0.87},{"c":2,"x":740,"y":1.03},{"c":2,"x":745,"y":0.78},
{"c":2,"x":750,"y":1.233},{"c":2,"x":755,"y":0.85},{"c":2,"x":760,"y":1.01},{"c":2,"x":765,"y":0.80},{"c":2,"x":770,"y":1.05},{"c":2,"x":775,"y":0.71},{"c":2,"x":780,"y":1.05},{"c":2,"x":785,"y":0.86},{"c":2,"x":790,"y":1.02},{"c":2,"x":795,"y":0.82},
{"c":2,"x":800,"y":1.10},{"c":2,"x":805,"y":0.84},{"c":2,"x":810,"y":1.00},{"c":2,"x":815,"y":0.76},{"c":2,"x":820,"y":1.12},{"c":2,"x":825,"y":0.87},{"c":2,"x":830,"y":1.04},{"c":2,"x":835,"y":0.84},{"c":2,"x":840,"y":1.18},{"c":2,"x":845,"y":0.85},
{"c":2,"x":850,"y":1.02},{"c":2,"x":855,"y":0.80},{"c":2,"x":860,"y":1.284},{"c":2,"x":865,"y":0.86},{"c":2,"x":870,"y":1.01},{"c":2,"x":875,"y":0.82},{"c":2,"x":880,"y":1.08},{"c":2,"x":885,"y":0.84},{"c":2,"x":890,"y":1.03},{"c":2,"x":895,"y":0.78},
{"c":2,"x":900,"y":1.00},{"c":2,"x":905,"y":0.75},{"c":2,"x":910,"y":1.06},{"c":2,"x":915,"y":0.86},{"c":2,"x":920,"y":1.02},{"c":2,"x":925,"y":0.82},{"c":2,"x":930,"y":1.10},{"c":2,"x":935,"y":0.85},{"c":2,"x":940,"y":1.01},{"c":2,"x":945,"y":0.79},
{"c":2,"x":950,"y":1.04},{"c":2,"x":955,"y":0.86},{"c":2,"x":960,"y":1.17},{"c":2,"x":965,"y":0.84},{"c":2,"x":970,"y":1.03},{"c":2,"x":975,"y":0.707},{"c":2,"x":980,"y":1.02},{"c":2,"x":985,"y":0.85},{"c":2,"x":990,"y":1.00},{"c":2,"x":995,"y":0.84},
{"c":3,"x":1000,"y":1.05},{"c":3,"x":1005,"y":0.87},{"c":3,"x":1010,"y":1.17},{"c":3,"x":1015,"y":0.85},{"c":3,"x":1020,"y":1.03},{"c":3,"x":1025,"y":0.78},{"c":3,"x":1030,"y":1.02},{"c":3,"x":1035,"y":0.74},{"c":3,"x":1040,"y":1.08},{"c":3,"x":1045,"y":0.86},
{"c":3,"x":1050,"y":1.04},{"c":3,"x":1055,"y":0.82},{"c":3,"x":1060,"y":1.12},{"c":3,"x":1065,"y":0.87},{"c":3,"x":1070,"y":1.02},{"c":3,"x":1075,"y":0.80},{"c":3,"x":1080,"y":1.06},{"c":3,"x":1085,"y":0.85},{"c":3,"x":1090,"y":1.03},{"c":3,"x":1095,"y":0.84},
{"c":3,"x":1100,"y":1.34},{"c":3,"x":1105,"y":0.86},{"c":3,"x":1110,"y":1.01},{"c":3,"x":1115,"y":0.82},{"c":3,"x":1120,"y":1.03},{"c":3,"x":1125,"y":0.72},{"c":3,"x":1130,"y":1.10},{"c":3,"x":1135,"y":0.85},{"c":3,"x":1140,"y":1.02},{"c":3,"x":1145,"y":0.80},
{"c":3,"x":1150,"y":1.17},{"c":3,"x":1155,"y":0.86},{"c":3,"x":1160,"y":1.00},{"c":3,"x":1165,"y":0.83},{"c":3,"x":1170,"y":1.08},{"c":3,"x":1175,"y":0.85},{"c":3,"x":1180,"y":1.02},{"c":3,"x":1185,"y":0.79},{"c":3,"x":1190,"y":1.12},{"c":3,"x":1195,"y":0.84},
{"c":3,"x":1200,"y":1.00},{"c":3,"x":1205,"y":0.84},{"c":3,"x":1210,"y":1.05},{"c":3,"x":1215,"y":0.85},{"c":3,"x":1220,"y":1.21},{"c":3,"x":1225,"y":0.83},{"c":3,"x":1230,"y":1.01},{"c":3,"x":1235,"y":0.80},{"c":3,"x":1240,"y":1.08},{"c":3,"x":1245,"y":0.84},
{"c":3,"x":1250,"y":0.99},{"c":3,"x":1255,"y":0.82},{"c":3,"x":1260,"y":1.20},{"c":3,"x":1265,"y":0.85},{"c":3,"x":1270,"y":1.00},{"c":3,"x":1275,"y":0.78},{"c":3,"x":1280,"y":1.06},{"c":3,"x":1285,"y":0.83},{"c":3,"x":1290,"y":0.99},{"c":3,"x":1295,"y":0.677},
{"c":3,"x":1300,"y":1.10},{"c":3,"x":1305,"y":0.82},{"c":3,"x":1310,"y":0.98},{"c":3,"x":1315,"y":0.80},{"c":3,"x":1320,"y":1.235},{"c":3,"x":1325,"y":0.83},{"c":3,"x":1330,"y":0.99},{"c":3,"x":1335,"y":0.82},{"c":3,"x":1340,"y":1.23},{"c":3,"x":1345,"y":0.81},
{"c":3,"x":1350,"y":0.97},{"c":3,"x":1355,"y":0.78},{"c":3,"x":1360,"y":1.02},{"c":3,"x":1365,"y":0.82},{"c":3,"x":1370,"y":0.98},{"c":3,"x":1375,"y":0.654},{"c":3,"x":1380,"y":0.98},{"c":3,"x":1385,"y":0.80},{"c":3,"x":1390,"y":0.96},{"c":3,"x":1395,"y":0.76},
{"c":3,"x":1400,"y":1.05},{"c":3,"x":1405,"y":0.81},{"c":3,"x":1410,"y":0.97},{"c":3,"x":1415,"y":0.74},{"c":3,"x":1420,"y":0.96},{"c":3,"x":1425,"y":0.79},{"c":3,"x":1430,"y":0.95},{"c":3,"x":1435,"y":0.78},{"c":3,"x":1440,"y":1.00},{"c":3,"x":1445,"y":0.80},
{"c":3,"x":1450,"y":0.96},{"c":3,"x":1455,"y":0.577},{"c":3,"x":1460,"y":0.94},{"c":3,"x":1465,"y":0.79},{"c":3,"x":1470,"y":0.97},{"c":3,"x":1475,"y":0.75},{"c":3,"x":1480,"y":0.95},{"c":3,"x":1485,"y":0.70},{"c":3,"x":1490,"y":0.98},{"c":3,"x":1495,"y":0.78},
{"c":4,"x":1500,"y":1.08},{"c":4,"x":1505,"y":0.87},{"c":4,"x":1510,"y":1.04},{"c":4,"x":1515,"y":0.82},{"c":4,"x":1520,"y":1.06},{"c":4,"x":1525,"y":0.659},{"c":4,"x":1530,"y":1.12},{"c":4,"x":1535,"y":0.86},{"c":4,"x":1540,"y":1.03},{"c":4,"x":1545,"y":0.86},
{"c":4,"x":1550,"y":1.10},{"c":4,"x":1555,"y":0.88},{"c":4,"x":1560,"y":1.05},{"c":4,"x":1565,"y":0.80},{"c":4,"x":1570,"y":1.08},{"c":4,"x":1575,"y":0.85},{"c":4,"x":1580,"y":1.02},{"c":4,"x":1585,"y":0.84},{"c":4,"x":1590,"y":1.14},{"c":4,"x":1595,"y":0.87},
{"c":4,"x":1600,"y":1.06},{"c":4,"x":1605,"y":0.82},{"c":4,"x":1610,"y":1.10},{"c":4,"x":1615,"y":0.86},{"c":4,"x":1620,"y":1.04},{"c":4,"x":1625,"y":0.78},{"c":4,"x":1630,"y":1.25},{"c":4,"x":1635,"y":0.88},{"c":4,"x":1640,"y":1.03},{"c":4,"x":1645,"y":0.85},
{"c":4,"x":1650,"y":1.12},{"c":4,"x":1655,"y":0.86},{"c":4,"x":1660,"y":1.25},{"c":4,"x":1665,"y":0.84},{"c":4,"x":1670,"y":1.05},{"c":4,"x":1675,"y":0.80},{"c":4,"x":1680,"y":1.15},{"c":4,"x":1685,"y":0.87},{"c":4,"x":1690,"y":1.02},{"c":4,"x":1695,"y":0.84},
{"c":4,"x":1700,"y":1.06},{"c":4,"x":1705,"y":0.605},{"c":4,"x":1710,"y":1.10},{"c":4,"x":1715,"y":0.86},{"c":4,"x":1720,"y":1.04},{"c":4,"x":1725,"y":0.82},{"c":4,"x":1730,"y":1.22},{"c":4,"x":1735,"y":0.88},{"c":4,"x":1740,"y":1.03},{"c":4,"x":1745,"y":0.80},
{"c":4,"x":1750,"y":1.14},{"c":4,"x":1755,"y":0.85},{"c":4,"x":1760,"y":1.05},{"c":4,"x":1765,"y":0.84},{"c":4,"x":1770,"y":1.10},{"c":4,"x":1775,"y":0.87},{"c":4,"x":1780,"y":1.20},{"c":4,"x":1785,"y":0.85},{"c":4,"x":1790,"y":1.04},{"c":4,"x":1795,"y":0.82},
{"c":4,"x":1800,"y":1.12},{"c":4,"x":1805,"y":0.86},{"c":4,"x":1810,"y":1.06},{"c":4,"x":1815,"y":0.78},{"c":4,"x":1820,"y":1.08},{"c":4,"x":1825,"y":0.88},{"c":4,"x":1830,"y":1.02},{"c":4,"x":1835,"y":0.85},{"c":4,"x":1840,"y":1.15},{"c":4,"x":1845,"y":0.86},
{"c":4,"x":1850,"y":1.05},{"c":4,"x":1855,"y":0.80},{"c":4,"x":1860,"y":1.10},{"c":4,"x":1865,"y":0.87},{"c":4,"x":1870,"y":1.03},{"c":4,"x":1875,"y":0.84},{"c":4,"x":1880,"y":1.12},{"c":4,"x":1885,"y":0.85},{"c":4,"x":1890,"y":1.04},{"c":4,"x":1895,"y":0.79},
{"c":4,"x":1900,"y":1.248},{"c":4,"x":1905,"y":0.86},{"c":4,"x":1910,"y":1.02},{"c":4,"x":1915,"y":0.71},{"c":4,"x":1920,"y":1.248},{"c":4,"x":1925,"y":0.87},{"c":4,"x":1930,"y":1.05},{"c":4,"x":1935,"y":0.82},{"c":4,"x":1940,"y":1.08},{"c":4,"x":1945,"y":0.85},
{"c":4,"x":1950,"y":1.03},{"c":4,"x":1955,"y":0.78},{"c":4,"x":1960,"y":1.10},{"c":4,"x":1965,"y":0.86},{"c":4,"x":1970,"y":1.04},{"c":4,"x":1975,"y":0.82},{"c":4,"x":1980,"y":1.05},{"c":4,"x":1985,"y":0.87},{"c":4,"x":1990,"y":1.02},{"c":4,"x":1995,"y":0.80},
{"c":5,"x":2000,"y":1.03},{"c":5,"x":2005,"y":0.74},{"c":5,"x":2010,"y":0.90},{"c":5,"x":2015,"y":0.552},{"c":5,"x":2020,"y":0.88},{"c":5,"x":2025,"y":0.73},{"c":5,"x":2030,"y":1.05},{"c":5,"x":2035,"y":0.75},{"c":5,"x":2040,"y":0.89},{"c":5,"x":2045,"y":0.68},
{"c":5,"x":2050,"y":0.92},{"c":5,"x":2055,"y":0.74},{"c":5,"x":2060,"y":0.88},{"c":5,"x":2065,"y":0.70},{"c":5,"x":2070,"y":0.91},{"c":5,"x":2075,"y":0.424},{"c":5,"x":2080,"y":0.90},{"c":5,"x":2085,"y":0.72},{"c":5,"x":2090,"y":0.87},{"c":5,"x":2095,"y":0.66},
{"c":5,"x":2100,"y":0.95},{"c":5,"x":2105,"y":0.73},{"c":5,"x":2110,"y":0.89},{"c":5,"x":2115,"y":0.60},{"c":5,"x":2120,"y":0.88},{"c":5,"x":2125,"y":0.72},{"c":5,"x":2130,"y":0.90},{"c":5,"x":2135,"y":0.62},{"c":5,"x":2140,"y":0.92},{"c":5,"x":2145,"y":0.74},
{"c":5,"x":2150,"y":0.88},{"c":5,"x":2155,"y":0.68},{"c":5,"x":2160,"y":1.00},{"c":5,"x":2165,"y":0.75},{"c":5,"x":2170,"y":0.90},{"c":5,"x":2175,"y":0.70},{"c":5,"x":2180,"y":0.94},{"c":5,"x":2185,"y":0.74},{"c":5,"x":2190,"y":0.91},{"c":5,"x":2195,"y":0.72},
{"c":5,"x":2200,"y":1.11},{"c":5,"x":2205,"y":0.76},{"c":5,"x":2210,"y":0.92},{"c":5,"x":2215,"y":0.74},{"c":5,"x":2220,"y":1.09},{"c":5,"x":2225,"y":0.75},{"c":5,"x":2230,"y":0.90},{"c":5,"x":2235,"y":0.70},{"c":5,"x":2240,"y":0.95},{"c":5,"x":2245,"y":0.76},
{"c":5,"x":2250,"y":1.116},{"c":5,"x":2255,"y":0.74},{"c":5,"x":2260,"y":0.91},{"c":5,"x":2265,"y":0.72},{"c":5,"x":2270,"y":0.92},{"c":5,"x":2275,"y":0.75},{"c":5,"x":2280,"y":0.89},{"c":5,"x":2285,"y":0.70},{"c":5,"x":2290,"y":0.96},{"c":5,"x":2295,"y":0.74},
{"c":5,"x":2300,"y":0.90},{"c":5,"x":2305,"y":0.72},{"c":5,"x":2310,"y":0.90},{"c":5,"x":2315,"y":0.75},{"c":5,"x":2320,"y":0.88},{"c":5,"x":2325,"y":0.68},{"c":5,"x":2330,"y":0.94},{"c":5,"x":2335,"y":0.74},{"c":5,"x":2340,"y":0.91},{"c":5,"x":2345,"y":0.74},
{"c":5,"x":2350,"y":0.92},{"c":5,"x":2355,"y":0.76},{"c":5,"x":2360,"y":0.89},{"c":5,"x":2365,"y":0.70},{"c":5,"x":2370,"y":0.90},{"c":5,"x":2375,"y":0.577},{"c":5,"x":2380,"y":0.90},{"c":5,"x":2385,"y":0.73},{"c":5,"x":2390,"y":0.88},{"c":5,"x":2395,"y":0.72},
{"c":5,"x":2400,"y":0.96},{"c":5,"x":2405,"y":0.75},{"c":5,"x":2410,"y":1.03},{"c":5,"x":2415,"y":0.74},{"c":5,"x":2420,"y":0.91},{"c":5,"x":2425,"y":0.74},{"c":5,"x":2430,"y":0.95},{"c":5,"x":2435,"y":0.76},{"c":5,"x":2440,"y":0.89},{"c":5,"x":2445,"y":0.70},
{"c":5,"x":2450,"y":0.92},{"c":5,"x":2455,"y":0.75},{"c":5,"x":2460,"y":1.01},{"c":5,"x":2465,"y":0.76},{"c":5,"x":2470,"y":0.90},{"c":5,"x":2475,"y":0.73},{"c":5,"x":2480,"y":1.00},{"c":5,"x":2485,"y":0.76},{"c":5,"x":2490,"y":0.98},{"c":5,"x":2495,"y":0.78}
]
},
"resolve":{"scale":{"x":"independent","y":"independent","color":"independent"},"legend":{"color":"independent"}},
"center":true,
"spacing":14,
"vconcat":[
{"hconcat":[
 {"width":516,"height":302,
  "title":{"text":"(a) The SpSL-orthonormal factor model"},
  "layer":[
   {"data":{"name":"a"},"mark":{"type":"line","strokeWidth":1.4},
    "encoding":{
     "x":{"field":"x","type":"quantitative","scale":{"domain":[-125,2624],"nice":false,"zero":false},"axis":{"values":[0,500,1000,1500,2000,2500],"format":"d"}},
     "y":{"field":"y","type":"quantitative","scale":{"domain":[0.462,1.413],"nice":false,"zero":false},"axis":{"values":[0.6,0.8,1.0,1.2,1.4],"format":".1f"}},
     "color":{"field":"c","type":"nominal","scale":{"domain":[1,2,3,4,5],"range":["#1f77b4","#ff7f0e","#2ca02c","#d62728","#9467bd"]},"legend":{"orient":"bottom-left","labelExpr":"'column ' + datum.label"}}}},
   {"data":{"values":[{"v":1}]},"mark":{"type":"rule","strokeDash":[5.5,2.4],"strokeWidth":1.5,"color":"#222"},"encoding":{"y":{"field":"v","type":"quantitative"}}}
  ]},
 {"width":513,"height":302,
  "title":{"text":"(b) The modified Ghosh-Dunson model"},
  "layer":[
   {"data":{"name":"b"},"mark":{"type":"line","strokeWidth":1.4},
    "encoding":{
     "x":{"field":"x","type":"quantitative","scale":{"domain":[-125,2624],"nice":false,"zero":false},"axis":{"values":[0,500,1000,1500,2000,2500],"format":"d"}},
     "y":{"field":"y","type":"quantitative","scale":{"domain":[0.567,1.403],"nice":false,"zero":false},"axis":{"values":[0.6,0.7,0.8,0.9,1.0,1.1,1.2,1.3,1.4],"format":".1f"}},
     "color":{"field":"c","type":"nominal","scale":{"domain":[1,2,3,4,5],"range":["#1f77b4","#ff7f0e","#2ca02c","#d62728","#9467bd"]},"legend":{"orient":"bottom-right","labelExpr":"'column ' + datum.label"}}}},
   {"data":{"values":[{"v":1}]},"mark":{"type":"rule","strokeDash":[5.5,2.4],"strokeWidth":1.5,"color":"#222"},"encoding":{"y":{"field":"v","type":"quantitative"}}}
  ]}
 ],
 "spacing":12,
 "resolve":{"scale":{"x":"independent","y":"independent","color":"independent"},"legend":{"color":"independent"}}
},
{"width":516,"height":301,
  "title":{"text":"(c) The model from Bhattacharya & Dunson (2011)","offset":24},
  "layer":[
   {"data":{"name":"c"},"mark":{"type":"line","strokeWidth":1.4},
    "encoding":{
     "x":{"field":"x","type":"quantitative","scale":{"domain":[-125,2624],"nice":false,"zero":false},"axis":{"values":[0,500,1000,1500,2000,2500],"format":"d"}},
     "y":{"field":"y","type":"quantitative","scale":{"domain":[0.38,1.48],"nice":false,"zero":false},"axis":{"values":[0.4,0.6,0.8,1.0,1.2,1.4],"format":".1f"}},
     "color":{"field":"c","type":"nominal","scale":{"domain":[1,2,3,4,5],"range":["#1f77b4","#ff7f0e","#2ca02c","#d62728","#9467bd"]},"legend":{"orient":"top-right","labelExpr":"'column ' + datum.label"}}}},
   {"data":{"values":[{"v":1}]},"mark":{"type":"rule","strokeDash":[5.5,2.4],"strokeWidth":1.5,"color":"#222"},"encoding":{"y":{"field":"v","type":"quantitative"}}}
  ]}
]
}
